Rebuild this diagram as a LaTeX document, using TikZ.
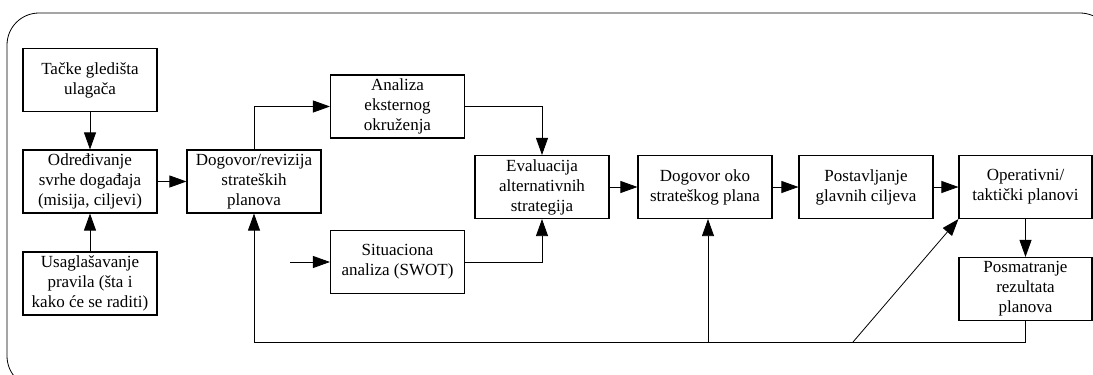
\documentclass[tikz,border=0pt]{standalone}
\usepackage{fontspec}
\setmainfont{Liberation Serif}
\usetikzlibrary{arrows.meta}
\begin{document}
\begin{tikzpicture}[x=1pt,y=-1pt,
  box/.style={draw,line width=1.1pt,minimum width=134pt,minimum height=63pt,inner sep=1pt,align=center,font=\fontsize{17}{20}\selectfont},
  conn/.style={line width=0.8pt},
  arr/.style={conn,-{Triangle[length=17pt,width=12pt]}}]
\useasboundingbox (0,0) rectangle (1093,375);
\draw[line width=0.8pt,rounded corners=32pt] (7,13) rectangle (1112,388);
\node[box] (tacke) at (90,80) {Tačke gledišta\\ulagača};
\node[box] (odr) at (90,181.5) {Određivanje\\svrhe događaja\\(misija, ciljevi)};
\node[box] (usag) at (90,283.5) {Usaglašavanje\\pravila (šta i\\kako će se raditi)};
\node[box] (dogrev) at (254,181.5) {Dogovor/revizija\\strateških\\planova};
\node[box] (analiza) at (397.5,106.5) {Analiza\\eksternog\\okruženja};
\node[box] (sit) at (397.5,262) {Situaciona\\analiza (SWOT)};
\node[box] (eval) at (542,187) {Evaluacija\\alternativnih\\strategija};
\node[box] (dogoko) at (705,187) {Dogovor oko\\strateškog plana};
\node[box] (post) at (866,187) {Postavljanje\\glavnih ciljeva};
\node[box,minimum width=133pt] (oper) at (1025.5,187) {Operativni/\\taktički planovi};
\node[box,minimum width=133pt] (posm) at (1025.5,289) {Posmatranje\\rezultata\\planova};
\coordinate (in) at (290,262);
\coordinate (fbr) at (1025.5,342);
\coordinate (fbl) at (254,342);
\coordinate (fbm) at (708,342);
\coordinate (fbd) at (853,342);
\draw[arr] (tacke) -- (odr);
\draw[arr] (usag) -- (odr);
\draw[arr] (odr) -- (dogrev);
\draw[arr] (dogrev.north) |- (analiza.west);
\draw[arr] (in) -- (sit.west);
\draw[arr] (analiza.east) -| (eval.north);
\draw[arr] (sit.east) -| (eval.south);
\draw[arr] (eval) -- (dogoko);
\draw[arr] (dogoko) -- (post);
\draw[arr] (post) -- (oper);
\draw[arr] (oper) -- (posm);
\draw[conn] (posm.south) -- (fbr) -- (fbl);
\draw[arr] (fbl) -- (dogrev.south);
\draw[arr] (fbm) -- (fbm |- dogoko.south);
\draw[arr] (fbd) -- (oper.south west);
\end{tikzpicture}
\end{document}
